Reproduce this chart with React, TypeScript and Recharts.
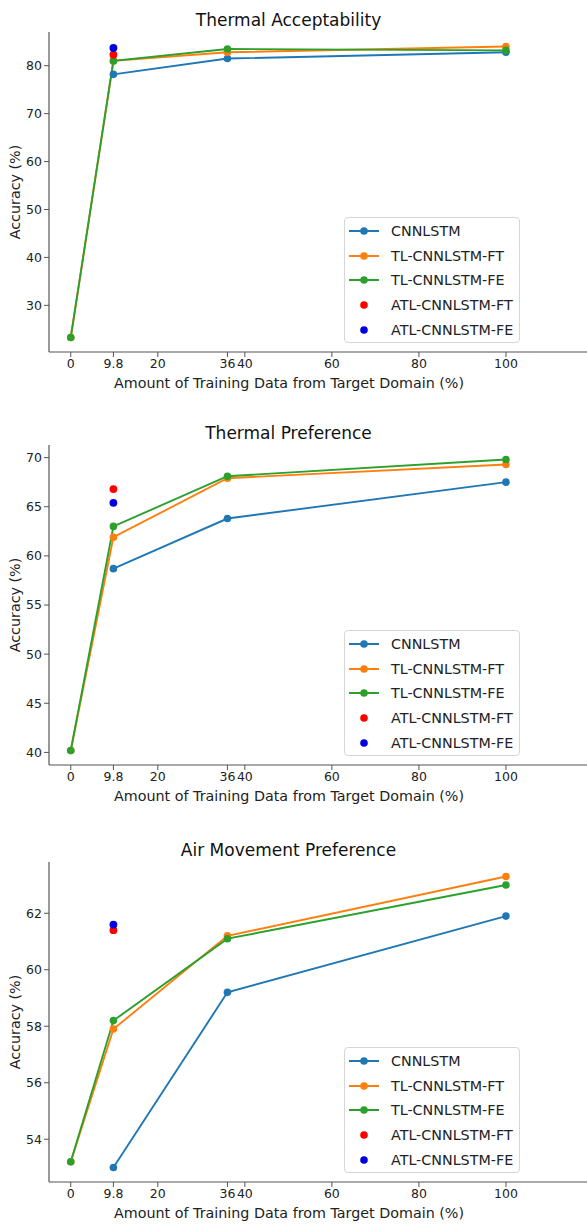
import { ComposedChart, Line, Scatter, XAxis, YAxis, Label } from "recharts";

// x positions (% of target-domain training data)
const xSteps = [0, 9.8, 36, 100];
const xStepsNoZero = [9.8, 36, 100];
const atlX = 9.8;
const xTicks = [0, 9.8, 20, 36, 40, 60, 80, 100];

const seriesNames = ["CNNLSTM", "TL-CNNLSTM-FT", "TL-CNNLSTM-FE", "ATL-CNNLSTM-FT", "ATL-CNNLSTM-FE"];
const seriesColors = ["#1f77b4", "#ff7f0e", "#2ca02c", "#ff0000", "#0000e0"];

// Thermal Acceptability
const accCnn = [78.2, 81.5, 82.8];
const accFt = [23.3, 81.0, 82.8, 84.0];
const accFe = [23.3, 81.0, 83.5, 83.2];
const accAtlFt = 82.3;
const accAtlFe = 83.7;
const accTicks = [30, 40, 50, 60, 70, 80];

// Thermal Preference
const prefCnn = [58.7, 63.8, 67.5];
const prefFt = [40.2, 61.9, 67.9, 69.3];
const prefFe = [40.2, 63.0, 68.1, 69.8];
const prefAtlFt = 66.8;
const prefAtlFe = 65.4;
const prefTicks = [40, 45, 50, 55, 60, 65, 70];

// Air Movement Preference
const airCnn = [53.0, 59.2, 61.9];
const airFt = [53.2, 57.9, 61.2, 63.3];
const airFe = [53.2, 58.2, 61.1, 63.0];
const airAtlFt = 61.4;
const airAtlFe = 61.6;
const airTicks = [54, 56, 58, 60, 62];

const FONT = "'DejaVu Sans', sans-serif";
const AXIS = "#555";
const TEXT = "#222";
const X_DOMAIN: [number, number] = [-5, 120];

const toPoints = (xs: number[], ys: number[]) => xs.map((x, i) => ({ x, y: ys[i] }));

interface PanelProps {
  top: number;
  title: string;
  cnn: number[];
  ft: number[];
  fe: number[];
  atlFt: number;
  atlFe: number;
  yTicks: number[];
}

function LegendBox() {
  return (
    <div style={{
      position: "absolute",
      left: 344,
      top: 215,
      width: 176,
      height: 126,
      boxSizing: "border-box",
      border: "1px solid #d6d6d6",
      borderRadius: 4,
      background: "rgba(255,255,255,0.85)",
      paddingTop: 1,
    }}>
      {seriesNames.map((name, i) => (
        <div key={name} style={{ display: "flex", alignItems: "center", height: 24.6 }}>
          <svg width={46} height={12} style={{ flex: "none" }}>
            {i < 3 && <line x1={4} x2={34} y1={6} y2={6} stroke={seriesColors[i]} strokeWidth={2} />}
            <circle cx={19} cy={6} r={3.8} fill={seriesColors[i]} />
          </svg>
          <span style={{ fontSize: 14.3, color: TEXT, fontFamily: FONT, whiteSpace: "nowrap" }}>{name}</span>
        </div>
      ))}
    </div>
  );
}

function Panel({ top, title, cnn, ft, fe, atlFt, atlFe, yTicks }: PanelProps) {
  const all = [...cnn, ...ft, ...fe, atlFt, atlFe];
  const lo = Math.min(...all);
  const hi = Math.max(...all);
  const pad = (hi - lo) * 0.05;
  const yDomain: [number, number] = [lo - pad, hi + pad];

  const lines = [
    { key: "cnn", pts: toPoints(xStepsNoZero, cnn), color: seriesColors[0] },
    { key: "ft", pts: toPoints(xSteps, ft), color: seriesColors[1] },
    { key: "fe", pts: toPoints(xSteps, fe), color: seriesColors[2] },
  ];

  return (
    <div style={{ position: "absolute", left: 0, top: top - 30, width: 600, height: 395 }}>
      <div style={{
        position: "absolute", left: 49, width: 479, top: 8, height: 20, lineHeight: "20px",
        textAlign: "center", fontSize: 17, color: "#111", fontFamily: FONT,
      }}>
        {title}
      </div>
      <ComposedChart width={600} height={395} margin={{ top: 30, right: 7, left: 0, bottom: 0 }}>
        <XAxis
          xAxisId="top"
          orientation="top"
          type="number"
          domain={X_DOMAIN}
          tick={false}
          tickLine={false}
          height={0}
          axisLine={{ stroke: AXIS, strokeWidth: 1.2 }}
        />
        <XAxis
          type="number"
          dataKey="x"
          domain={X_DOMAIN}
          ticks={xTicks}
          interval={0}
          height={45}
          tickSize={5}
          axisLine={{ stroke: AXIS, strokeWidth: 1.2 }}
          tickLine={{ stroke: AXIS }}
          tick={{ fontSize: 12.5, fill: TEXT, fontFamily: FONT }}
        >
          <Label
            value="Amount of Training Data from Target Domain (%)"
            position="insideBottom"
            offset={9}
            dx={-32}
            style={{ fontSize: 14.3, fill: TEXT, fontFamily: FONT }}
          />
        </XAxis>
        <YAxis
          type="number"
          dataKey="y"
          domain={yDomain}
          ticks={yTicks}
          interval={0}
          width={49}
          tickSize={5}
          axisLine={{ stroke: AXIS, strokeWidth: 1.2 }}
          tickLine={{ stroke: AXIS }}
          tick={{ fontSize: 12.5, fill: TEXT, fontFamily: FONT }}
        >
          <Label
            value="Accuracy (%)"
            angle={-90}
            position="insideLeft"
            offset={15}
            style={{ textAnchor: "middle", fontSize: 14.3, fill: TEXT, fontFamily: FONT }}
          />
        </YAxis>
        {lines.map((l) => (
          <Line
            key={l.key}
            data={l.pts}
            dataKey="y"
            type="linear"
            stroke={l.color}
            strokeWidth={1.9}
            dot={{ r: 3.8, fill: l.color, stroke: l.color, strokeWidth: 0 }}
            activeDot={false}
            isAnimationActive={false}
          />
        ))}
        <Scatter
          data={[{ x: atlX, y: atlFt }]}
          dataKey="y"
          fill={seriesColors[3]}
          shape={(p: any) => <circle cx={p.cx} cy={p.cy} r={3.9} fill={seriesColors[3]} />}
          isAnimationActive={false}
        />
        <Scatter
          data={[{ x: atlX, y: atlFe }]}
          dataKey="y"
          fill={seriesColors[4]}
          shape={(p: any) => <circle cx={p.cx} cy={p.cy} r={3.9} fill={seriesColors[4]} />}
          isAnimationActive={false}
        />
      </ComposedChart>
      <LegendBox />
    </div>
  );
}

export default function App() {
  return (
    <div style={{
      position: "absolute", left: 0, top: 0, width: 587, height: 1224,
      overflow: "hidden", background: "#fff", fontFamily: FONT,
    }}>
      <Panel top={32} title="Thermal Acceptability" cnn={accCnn} ft={accFt} fe={accFe}
        atlFt={accAtlFt} atlFe={accAtlFe} yTicks={accTicks} />
      <Panel top={445} title="Thermal Preference" cnn={prefCnn} ft={prefFt} fe={prefFe}
        atlFt={prefAtlFt} atlFe={prefAtlFe} yTicks={prefTicks} />
      <Panel top={862} title="Air Movement Preference" cnn={airCnn} ft={airFt} fe={airFe}
        atlFt={airAtlFt} atlFe={airAtlFe} yTicks={airTicks} />
    </div>
  );
}
